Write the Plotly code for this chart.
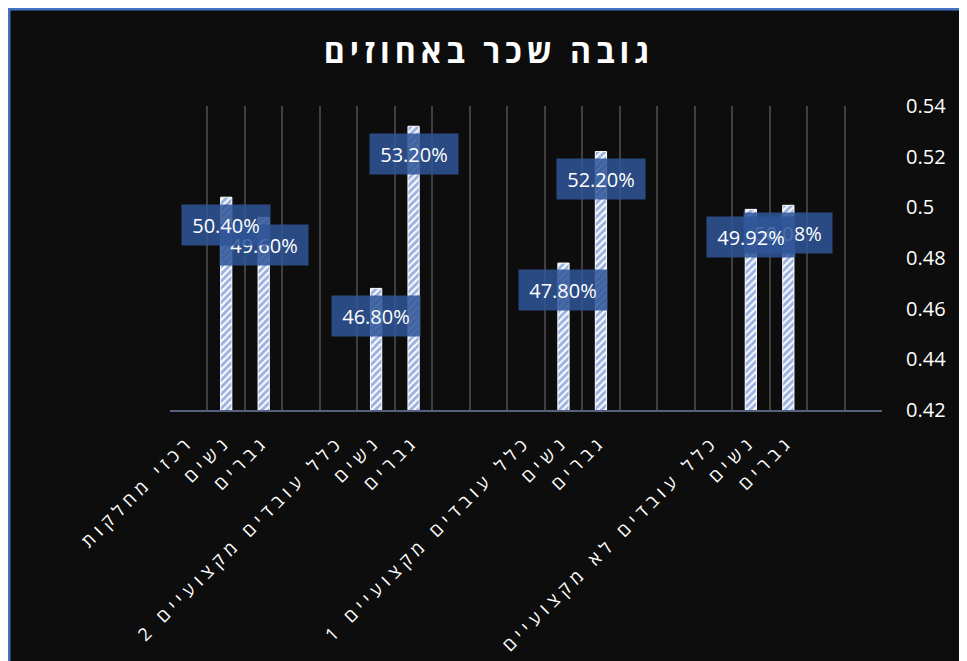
import plotly.graph_objects as go

# ---- data ----
categories = ["רכזי מחלקות", "נשים", "גברים", "",
              "כלל עובדים מקצועיים 2", "נשים", "גברים", "", "",
              "כלל עובדים מקצועיים 1", "נשים", "גברים", "", "",
              "כלל עובדים לא מקצועיים", "נשים", "גברים", "", ""]
values = [None, 0.504, 0.496, None,
          None, 0.468, 0.532, None, None,
          None, 0.478, 0.522, None, None,
          None, 0.4992, 0.5008, None, None]
y_ticks = [0.42, 0.44, 0.46, 0.48, 0.50, 0.52, 0.54]
title_text = "גובה שכר באחוזים"

W, H = 967, 661
ML, MR, MT, MB = 162, 93, 98, 259
PW, PH = W - ML - MR, H - MT - MB
FONT = "Open Sans, DejaVu Sans"

x_pos = list(range(len(categories)))

fig = go.Figure()
fig.add_trace(go.Bar(
    x=x_pos, y=values, width=0.3,
    marker=dict(color="white",
                line=dict(color="white", width=1),
                pattern=dict(shape="/", fgcolor="#3A66C8", bgcolor="white",
                             size=5, solidity=0.6)),
    hoverinfo="skip", showlegend=False,
))

# data labels (boxes) – men first so women's boxes overlap them
label_offset = 0.0108
order = [i for i, c in enumerate(categories) if c == "גברים"] + \
        [i for i, c in enumerate(categories) if c == "נשים"]
for i in order:
    v = values[i]
    if v is None:
        continue
    fig.add_annotation(
        x=i, y=v - label_offset, xref="x", yref="y",
        text=f"{v*100:.2f}%", showarrow=False,
        width=86, height=38,
        bgcolor="rgba(47,85,151,0.86)",
        font=dict(family=FONT, size=20, color="white"),
    )

def px_x(p):
    return (p - ML) / PW

def px_y(p):
    return (H - MB - p) / PH

# blue chart border along the top and left edges
fig.add_shape(type="rect", xref="paper", yref="paper", layer="below",
              x0=px_x(1.2), x1=px_x(W + 20), y0=px_y(H + 20), y1=px_y(1.2),
              fillcolor="rgba(0,0,0,0)", line=dict(color="#4472C4", width=2.5))

fig.update_layout(
    width=W, height=H,
    margin=dict(l=ML, r=MR, t=MT, b=MB),
    paper_bgcolor="#0D0D0D",
    plot_bgcolor="#0D0D0D",
    title=dict(text=title_text, x=481 / W, xanchor="center",
               y=1 - 44 / H, yanchor="middle",
               font=dict(family=FONT, size=32, color="white", weight="bold")),
)
fig.update_xaxes(
    range=[-0.5, len(categories) - 0.5],
    tickmode="array", tickvals=x_pos, ticktext=categories,
    tickangle=-45, showgrid=False, zeroline=False,
    tickfont=dict(family=FONT, size=18, color="white"),
    showline=True, linecolor="#56627E", linewidth=1.5,
    ticks="outside", ticklen=12, tickcolor="rgba(0,0,0,0)",
    minor=dict(tickmode="array",
               tickvals=[i - 0.5 for i in range(len(categories) + 1)],
               showgrid=True, gridcolor="#404040", gridwidth=1.5, ticks=""),
)
fig.update_yaxes(
    range=[y_ticks[0], y_ticks[-1]], side="right",
    tickmode="array", tickvals=y_ticks,
    ticktext=[f"{t:g}" for t in y_ticks],
    showgrid=False, zeroline=False, showline=False,
    ticks="outside", ticklen=19, tickcolor="rgba(0,0,0,0)",
    tickfont=dict(family=FONT, size=20, color="white"),
)

post = """
var gd = document.getElementById('{plot_id}');
function spacing(){
  gd.querySelectorAll('.xtick text').forEach(function(t){ t.style.letterSpacing = '5.5px'; });
  gd.querySelectorAll('.gtitle').forEach(function(t){ t.style.letterSpacing = '5px'; });
}
spacing();
gd.on('plotly_afterplot', spacing);
"""

fig.write_html("out.html", post_script=post)
